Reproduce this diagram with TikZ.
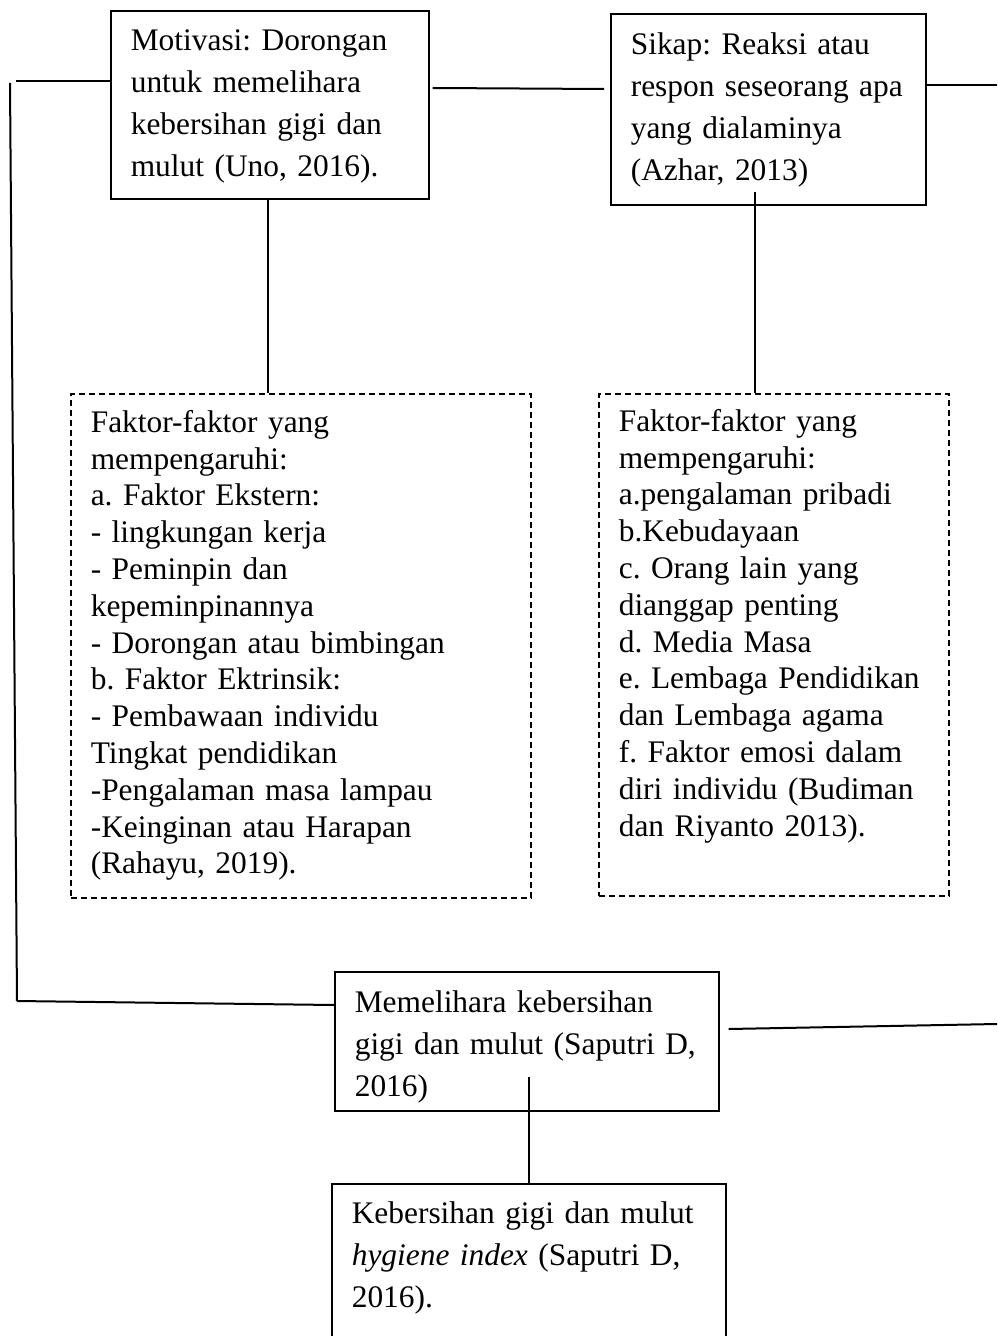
\documentclass[tikz,border=0pt]{standalone}
\usepackage{fontspec}
\setmainfont{Liberation Serif}
\begin{document}
\begin{tikzpicture}[x=0.5pt,y=-0.5pt,
          box/.style={draw,line width=0.8pt,align=left,inner xsep=10pt,inner ysep=2pt,
            font=\fontsize{15.7}{21}\selectfont\frenchspacing,anchor=north west},
          dbox/.style={draw,dash pattern=on 3pt off 2pt,line width=0.8pt,align=left,
            inner xsep=10pt,inner ysep=2pt,font=\fontsize{15.7}{18.4}\selectfont\frenchspacing,anchor=north west},
          con/.style={line width=1pt}
          ]
          \useasboundingbox (0,0) rectangle (997,1336);
          \clip (0,0) rectangle (997,1336);
          \node[box,text width=139pt,minimum height=94pt] (mot) at (110,10)
            {\strut Motivasi: Dorongan\\untuk memelihara\\kebersihan gigi dan\\mulut (Uno, 2016).\strut};
          \node[box,text width=137.5pt,minimum height=95.5pt] (sik) at (610,13)
            {\strut Sikap: Reaksi atau\\respon seseorang apa\\yang dialaminya\\(Azhar, 2013)\strut};
          \node[dbox,text width=210pt,minimum height=252pt] (fak1) at (70,393)
            {\strut Faktor-faktor yang\\mempengaruhi:\\a. Faktor Ekstern:\\- lingkungan kerja\\
             - Peminpin dan\\kepeminpinannya\\- Dorongan atau bimbingan\\b. Faktor Ektrinsik:\\
             - Pembawaan individu\\Tingkat pendidikan\\-Pengalaman masa lampau\\
             -Keinginan atau Harapan\\(Rahayu, 2019).\strut};
          \node[dbox,text width=155pt,minimum height=251pt] (fak2) at (598,393)
            {\strut Faktor-faktor yang\\mempengaruhi:\\a.pengalaman pribadi\\b.Kebudayaan\\
             c. Orang lain yang\\dianggap penting\\d. Media Masa\\e. Lembaga Pendidikan\\
             dan Lembaga agama\\f. Faktor emosi dalam\\diri individu (Budiman\\
             dan Riyanto 2013).\\\strut};
          \node[box,text width=172pt,minimum height=69.5pt,inner ysep=0pt] (mem) at (334,971)
            {\rule{0pt}{19.7pt}Memelihara kebersihan\\gigi dan mulut (Saputri D,\\2016)\strut};
          \node[box,text width=177pt,minimum height=94.5pt] (kbg) at (331,1183)
            {\strut Kebersihan gigi dan mulut\\\textit{hygiene index} (Saputri D,\\2016).\\\strut};
          % frame on the left
          \coordinate (lt) at (16,81);
          \coordinate (lv) at (10,83);
          \coordinate (lb) at (17,1001);
          \draw[con] (lt) -- (lt -| mot.west);
          \draw[con] (lv) -- (lb);
          \draw[con] (lb) -- ([yshift=-17pt]mem.north west);
          % top row
          \draw[con] ([shift={(1.5pt,-39pt)}]mot.north east) -- ([shift={(-3pt,-38pt)}]sik.north west);
          \coordinate (rt) at (997,85);
          \draw[con] ([yshift=-36pt]sik.north east) -- (rt);
          \coordinate (rb) at (997,1024);
          \draw[con] ([shift={(4.5pt,-29pt)}]mem.north east) -- (rb);
          % down to the factor boxes
          \coordinate (md1) at ([xshift=-1pt]mot.south);
          \draw[con] (md1) -- (md1 |- fak1.north);
          \coordinate (sd1) at ([shift={(-6.75pt,7pt)}]sik.south);
          \draw[con] (sd1) -- (sd1 |- fak2.north);
          \coordinate (md2) at (kbg.north |- mem.south);
          \draw[con] ([yshift=17.5pt]md2) -- (kbg.north);
        \end{tikzpicture}
\end{document}
